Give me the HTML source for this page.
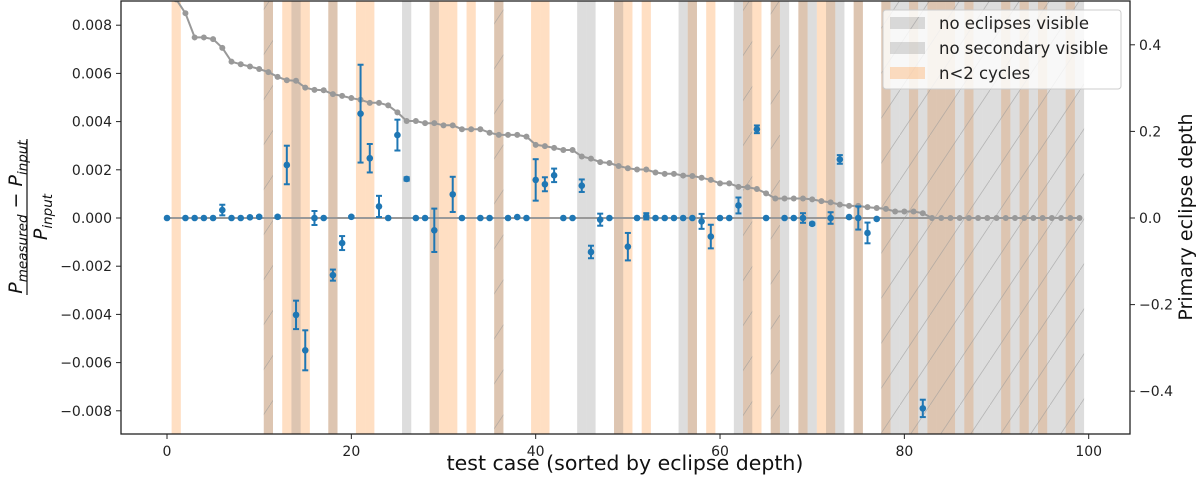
<!DOCTYPE html>
<html><head><meta charset="utf-8"><style>
html,body{margin:0;padding:0;background:#fff;}
svg{display:block;font-family:"DejaVu Sans","Liberation Sans",sans-serif;}
</style></head><body>
<svg id="chart" width="1200" height="484" viewBox="0 0 1200 484">
<defs>
<pattern id="hatch" patternUnits="userSpaceOnUse" width="30" height="45">
<line x1="-3" y1="49.5" x2="33" y2="-4.5" stroke="#999" stroke-width="0.8" stroke-opacity="0.6"/>
</pattern>
<clipPath id="plotclip"><rect x="121" y="1" width="1009" height="433"/></clipPath>
</defs>
<g id="bands" clip-path="url(#plotclip)"></g>
<g id="marks" clip-path="url(#plotclip)"></g>
<g id="axes"></g>
<g>
<rect x="883" y="10" width="238" height="79" rx="3" fill="#fff" fill-opacity="0.8" stroke="#ccc" stroke-width="1"/>
<rect x="890" y="17" width="35" height="12" fill="rgba(128,128,128,0.27)"/>
<rect x="890" y="17" width="35" height="12" fill="url(#hatch)"/>
<text x="939" y="29" font-size="16.5" fill="#222">no eclipses visible</text>
<rect x="890" y="42" width="35" height="12" fill="rgba(128,128,128,0.27)"/>
<text x="939" y="54" font-size="16.5" fill="#222">no secondary visible</text>
<rect x="890" y="67" width="35" height="12" fill="rgba(255,127,14,0.25)"/>
<text x="939" y="79" font-size="16.5" fill="#222">n&lt;2 cycles</text>
</g>
<text x="625" y="470" font-size="20.5" text-anchor="middle" fill="#111">test case (sorted by eclipse depth)</text>
<text transform="translate(1192,217) rotate(-90)" font-size="19" text-anchor="middle" fill="#111">Primary eclipse depth</text>
<g transform="translate(0,217) rotate(-90)" fill="#111">
<text x="0" y="22" font-size="19" text-anchor="middle" font-style="italic">P<tspan font-size="13.5" dy="5">measured</tspan><tspan dy="-5" font-style="normal"> − </tspan>P<tspan font-size="13.5" dy="5">input</tspan></text>
<line x1="-78" y1="27" x2="78" y2="27" stroke="#111" stroke-width="1.2"/>
<text x="0" y="47" font-size="19" text-anchor="middle" font-style="italic">P<tspan font-size="13.5" dy="5">input</tspan></text>
</g>
</svg>
<script>
const caseIndex = Array.from({length:100},(_,i)=>i);
const depthValues = [0.55,0.505,0.473,0.417,0.417,0.413,0.393,0.361,0.355,0.350,0.344,0.337,0.326,0.318,0.317,0.301,0.296,0.295,0.286,0.282,0.277,0.273,0.266,0.266,0.260,0.244,0.224,0.224,0.219,0.219,0.214,0.214,0.205,0.205,0.205,0.197,0.192,0.192,0.192,0.188,0.169,0.166,0.162,0.157,0.157,0.142,0.137,0.129,0.127,0.120,0.115,0.112,0.112,0.105,0.102,0.102,0.098,0.097,0.093,0.088,0.080,0.080,0.072,0.071,0.067,0.057,0.045,0.045,0.045,0.045,0.043,0.039,0.036,0.031,0.028,0.028,0.025,0.023,0.021,0.015,0.015,0.015,0.011,0,0,0,0,0,0,0,0,0,0,0,0,0,0,0,0,0];
const periodCases = [0,2,3,4,5,6,7,8,9,10,12,13,14,15,16,17,18,19,20,21,22,23,24,25,26,27,28,29,31,32,34,35,37,38,39,40,41,42,43,44,45,46,47,48,50,51,52,53,54,55,56,57,58,59,60,61,62,64,65,67,68,69,70,72,73,74,75,76,77,82];
const periodValues = [0,0,0,0,0,0.00033,0,0,0.00003,0.00005,0.00005,0.0022,-0.00402,-0.00549,0,0,-0.00237,-0.00104,0.00005,0.00433,0.00248,0.00048,0,0.00344,0.00162,0,0,-0.00051,0.00098,0,0,0,0,0.00004,0,0.00158,0.0014,0.00177,0,0,0.00134,-0.00141,-0.00007,0,-0.00119,0,0.00007,0,0,0,0,0,-0.00014,-0.00077,0,0,0.00052,0.00368,0,0,0,0,-0.00024,0,0.00243,0.00004,0,-0.00062,-0.00004,-0.0079];
const periodErrors = [0,0,0,0,0,0.00022,0,0,0.00003,0.00003,0.00004,0.0008,0.00059,0.00083,0.00029,0,0.00023,0.00029,0.00003,0.00203,0.00059,0.00044,0,0.00064,0.00007,0,0,0.0009,0.00073,0,0,0,0,0,0,0.00086,0.00029,0.00028,0,0,0.00026,0.00026,0.00025,0,0.00057,0,0.00013,0,0,0,0,0,0.00031,0.00049,0,0,0.00033,0.00016,0,0,0,0.0002,0.00005,0.00024,0.00018,0,0.00048,0.00043,0,0.00036];
const cyclesCases = [1,11,13,14,15,18,21,22,29,30,31,33,36,40,41,49,50,52,57,59,63,64,66,69,71,72,75,78,81,83,84,85,87,91,93,95,98];
const noSecondaryCases = [14,18,26,29,45,46,49,56,57,62,67,69,70,72,73,75];
const noEclipseCases = [11,36,63,66,78,79,80,81,82,83,84,85,86,87,88,89,90,91,92,93,94,95,96,97,98,99];
const xTicks = [0,20,40,60,80,100];
const leftTicks = [-0.008,-0.006,-0.004,-0.002,0,0.002,0.004,0.006,0.008];
const leftTickLabels = ["−0.008","−0.006","−0.004","−0.002","0.000","0.002","0.004","0.006","0.008"];
const rightTicks = [-0.4,-0.2,0,0.2,0.4];
const rightTickLabels = ["−0.4","−0.2","0.0","0.2","0.4"];

const NS="http://www.w3.org/2000/svg";
const X0=121,X1=1130,Y0=1,Y1=434;
const xs = v => 167 + 9.217*v;
const yl = v => 218 - v*24100;
const yr = v => 218 - v*433;
function mk(tag, attrs, parent){const e=document.createElementNS(NS,tag);for(const k in attrs)e.setAttribute(k,attrs[k]);parent.appendChild(e);return e;}
const bands=document.getElementById('bands'), marks=document.getElementById('marks'), axes=document.getElementById('axes');

cyclesCases.forEach(c=>{
  const r=mk('rect',{x:xs(c-0.5),y:Y0,width:xs(c+0.5)-xs(c-0.5),height:Y1-Y0,fill:'rgba(255,127,14,0.25)'},bands);
  
  
});
noSecondaryCases.forEach(c=>{
  const r=mk('rect',{x:xs(c-0.5),y:Y0,width:xs(c+0.5)-xs(c-0.5),height:Y1-Y0,fill:'rgba(128,128,128,0.27)'},bands);
  
  
});
noEclipseCases.forEach(c=>{
  const r=mk('rect',{x:xs(c-0.5),y:Y0,width:xs(c+0.5)-xs(c-0.5),height:Y1-Y0,fill:'rgba(128,128,128,0.27)'},bands);
  
  
  mk('rect',{x:xs(c-0.5),y:Y0,width:xs(c+0.5)-xs(c-0.5),height:Y1-Y0,fill:'url(#hatch)'},bands);
});

const zl=mk('line',{x1:xs(0),x2:xs(99),y1:yl(0),y2:yl(0),stroke:'#999',"stroke-width":2},marks);



const pts=caseIndex.map(i=>xs(i).toFixed(1)+','+yr(depthValues[i]).toFixed(1)).join(' ');
const dl=mk('polyline',{points:pts,fill:'none',stroke:'#999',"stroke-width":2},marks);


caseIndex.forEach(i=>{
  const c=mk('circle',{cx:xs(i),cy:yr(depthValues[i]),r:3,fill:'#999'},marks);
  
  
});

periodCases.forEach((c,k)=>{
  const v=periodValues[k], e=periodErrors[k], x=xs(c);
  if(e>0){
    const g=mk('g',{stroke:'#1f77b4',"stroke-width":2},marks);
    mk('line',{x1:x,x2:x,y1:yl(v-e),y2:yl(v+e)},g);
    mk('line',{x1:x-3,x2:x+3,y1:yl(v-e),y2:yl(v-e)},g);
    mk('line',{x1:x-3,x2:x+3,y1:yl(v+e),y2:yl(v+e)},g);
    
    
  }
  const p=mk('circle',{cx:x,cy:yl(v),r:3.3,fill:'#1f77b4'},marks);
  
  
});

const fr=mk('rect',{x:X0,y:Y0,width:X1-X0,height:Y1-Y0,fill:'none',stroke:'#222',"stroke-width":1.3},axes);


xTicks.forEach(t=>{
  const x=xs(t);
  mk('line',{x1:x,x2:x,y1:Y1,y2:Y1+5,stroke:'#222',"stroke-width":1},axes);
  const tx=mk('text',{x:x,y:Y1+22,"font-size":14,"text-anchor":"middle",fill:'#222'},axes);
  tx.textContent=t;
  
  
});
leftTicks.forEach((t,k)=>{
  const y=yl(t);
  mk('line',{x1:X0-5,x2:X0,y1:y,y2:y,stroke:'#222',"stroke-width":1},axes);
  const tx=mk('text',{x:X0-9,y:y+5,"font-size":14,"text-anchor":"end",fill:'#222'},axes);
  tx.textContent=leftTickLabels[k];
  
  
});
rightTicks.forEach((t,k)=>{
  const y=yr(t);
  mk('line',{x1:X1,x2:X1+5,y1:y,y2:y,stroke:'#222',"stroke-width":1},axes);
  const tx=mk('text',{x:X1+9,y:y+5,"font-size":14,"text-anchor":"start",fill:'#222'},axes);
  tx.textContent=rightTickLabels[k];
  
  
});
</script>
</body></html>
